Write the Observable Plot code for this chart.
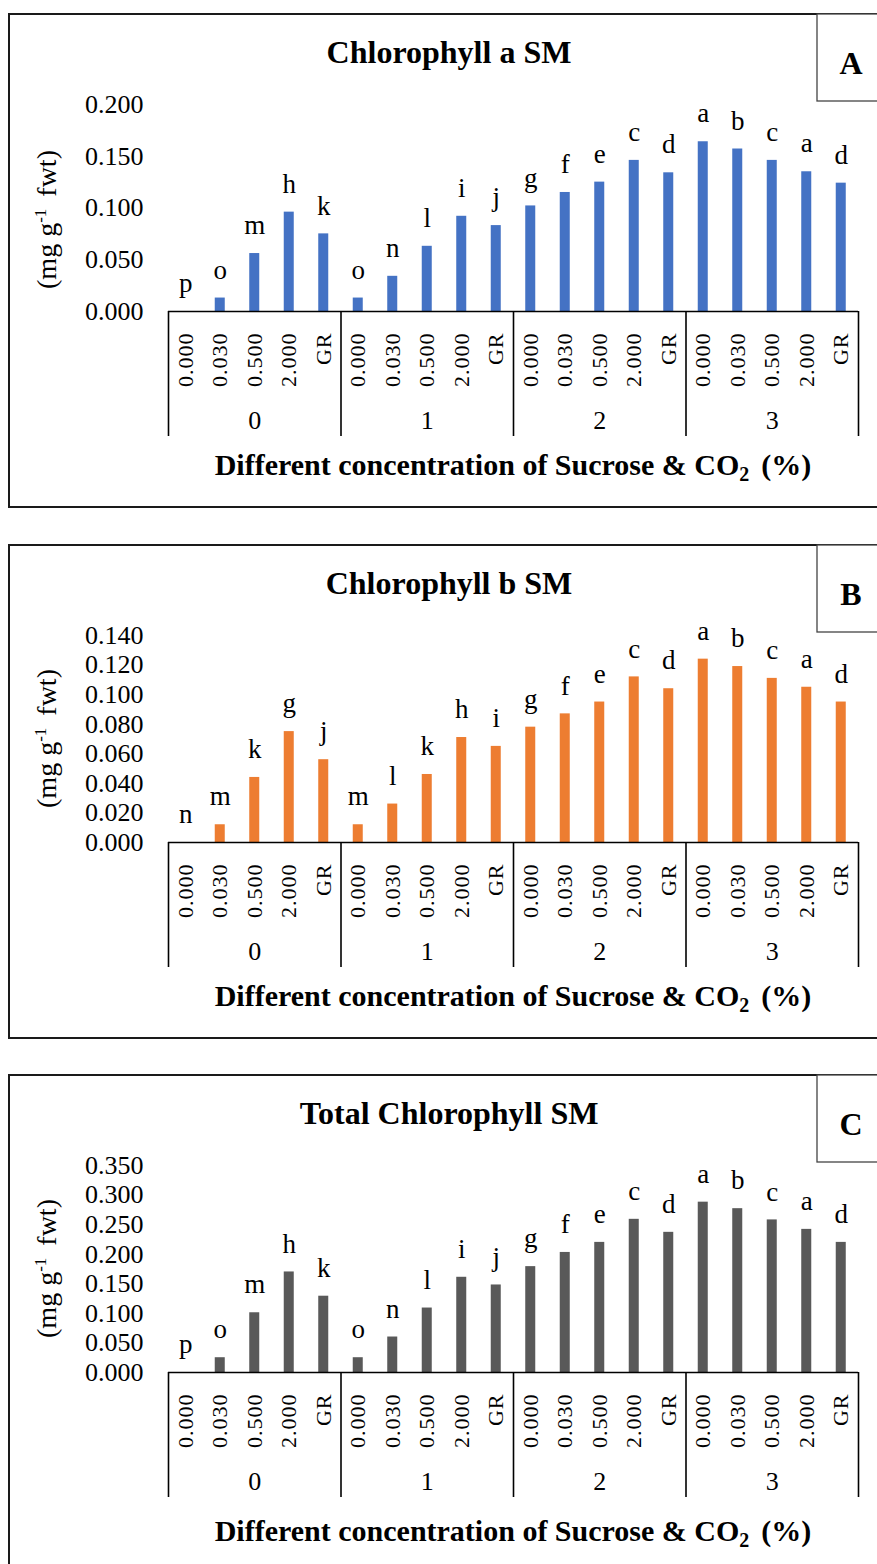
<!DOCTYPE html>
<html>
<head>
<meta charset="utf-8">
<script src="https://cdn.jsdelivr.net/npm/d3@7"></script>
<script src="https://cdn.jsdelivr.net/npm/@observablehq/plot@0.6"></script>
<style>
  html, body { margin: 0; padding: 0; background: #fff; }
  body { width: 877px; height: 1564px; overflow: hidden; position: relative; }
  .panel { position: absolute; left: 0; width: 877px; height: 495px; }
  .panel svg { display: block; overflow: hidden; }
</style>
</head>
<body>
<div id="pA" class="panel" style="top:13px"></div>
<div id="pB" class="panel" style="top:544px"></div>
<div id="pC" class="panel" style="top:1074px"></div>
<script>
// ---- data ----
const groups = ["0", "1", "2", "3"];
const treatments = ["0.000", "0.030", "0.500", "2.000", "GR"];

const chlA = [0.000, 0.013, 0.056, 0.096, 0.075, 0.013, 0.034, 0.063, 0.092, 0.083,
              0.102, 0.115, 0.125, 0.146, 0.134, 0.164, 0.157, 0.146, 0.135, 0.124];
const chlALetters = ["p","o","m","h","k","o","n","l","i","j","g","f","e","c","d","a","b","c","a","d"];

const chlB = [0.000, 0.012, 0.044, 0.075, 0.056, 0.012, 0.026, 0.046, 0.071, 0.065,
              0.078, 0.087, 0.095, 0.112, 0.104, 0.124, 0.119, 0.111, 0.105, 0.095];
const chlBLetters = ["n","m","k","g","j","m","l","k","h","i","g","f","e","c","d","a","b","c","a","d"];

const chlTotal = [0.000, 0.025, 0.101, 0.170, 0.129, 0.025, 0.060, 0.109, 0.161, 0.148,
                  0.179, 0.203, 0.220, 0.259, 0.237, 0.288, 0.277, 0.258, 0.242, 0.220];
const chlTotalLetters = ["p","o","m","h","k","o","n","l","i","j","g","f","e","c","d","a","b","c","a","d"];

const ticksA = [0, 0.05, 0.10, 0.15, 0.20];
const ticksB = [0, 0.02, 0.04, 0.06, 0.08, 0.10, 0.12, 0.14];
const ticksC = [0, 0.05, 0.10, 0.15, 0.20, 0.25, 0.30, 0.35];

const titles = ["Chlorophyll a SM", "Chlorophyll b SM", "Total Chlorophyll SM"];
const panelLetters = ["A", "B", "C"];
const colors = ["#4472C4", "#ED7D31", "#595959"];

// ---- layout constants ----
const W = 877, H = 495;
const mL = 168, mR = 19, mT = 91, mB = 197;
const step = (W - mL - mR) / (groups.length * treatments.length);
const serif = '"Liberation Serif","Times New Roman",serif';

const keys = [];
groups.forEach(g => treatments.forEach(t => keys.push(g + "|" + t)));

function makePanel(el, values, letters, ticks, color, title, letter, yTitleShift, xTitleY) {
  const data = keys.map((k, i) => ({key: k, value: values[i], letter: letters[i]}));
  const firstKeys = groups.map(g => g + "|" + treatments[0]);
  const lastKey = keys[keys.length - 1];
  const midKeys = groups.map(g => ({key: g + "|" + treatments[2], label: g}));

  const plot = Plot.plot({
    width: W, height: H,
    marginLeft: mL, marginRight: mR, marginTop: mT, marginBottom: mB,
    style: {fontFamily: serif, background: "transparent", color: "#000", overflow: "hidden"},
    x: {domain: keys, paddingInner: 0.71, paddingOuter: 0.355, round: false, axis: null},
    y: {domain: [ticks[0], ticks[ticks.length - 1]], axis: null},
    marks: [
      Plot.barY(data, {x: "key", y: "value", fill: color}),
      Plot.text(data, {x: "key", y: "value", text: "letter", dy: -28, fontSize: 27, fill: "#000"}),
      Plot.ruleY([0], {stroke: "#000", strokeWidth: 1.6}),
      Plot.axisY({ticks: ticks, tickFormat: d3.format(".3f"), tickSize: 0, tickPadding: 25,
                  fontSize: 26, label: null}),
      Plot.axisX({ticks: keys, tickRotate: -90, tickSize: 0, tickPadding: 21,
                  tickFormat: k => k.split("|")[1], fontSize: 22, label: null}),
      Plot.ruleX(firstKeys, {x: d => d, dx: -step / 2, y1: 0, y2: 0, insetBottom: -125,
                             stroke: "#000", strokeWidth: 1.6}),
      Plot.ruleX([lastKey], {x: d => d, dx: step / 2, y1: 0, y2: 0, insetBottom: -125,
                             stroke: "#000", strokeWidth: 1.6}),
      Plot.text(midKeys, {x: "key", text: "label", frameAnchor: "bottom", dy: 117,
                          fontSize: 26, fill: "#000"})
    ]
  });

  const svg = d3.select(plot);
  svg.selectAll('g[aria-label="x-axis tick label"] text').style("letter-spacing", "1px");

  // panel frame and letter box
  svg.insert("rect", ":first-child")
    .attr("x", 9).attr("y", 1).attr("width", 900).attr("height", 493)
    .attr("fill", "none").attr("stroke", "#1a1a1a").attr("stroke-width", 2);
  svg.append("rect")
    .attr("x", 817).attr("y", 1).attr("width", 80).attr("height", 87)
    .attr("fill", "#fff").attr("stroke", "#444").attr("stroke-width", 1.3);
  svg.append("text").attr("x", 851).attr("y", 61).attr("text-anchor", "middle")
    .attr("font-family", serif).attr("font-weight", "bold").attr("font-size", 32).text(letter);

  // chart title
  svg.append("text").attr("x", 449).attr("y", 50).attr("text-anchor", "middle")
    .attr("font-family", serif).attr("font-weight", "bold").attr("font-size", 32).text(title);

  // x axis title
  const xt = svg.append("text").attr("x", 513).attr("y", xTitleY).attr("text-anchor", "middle")
    .attr("font-family", serif).attr("font-weight", "bold").attr("font-size", 30);
  xt.append("tspan").text("Different concentration of Sucrose & CO");
  xt.append("tspan").attr("font-size", 20).attr("dy", 6).text("2");
  xt.append("tspan").attr("dy", -6).attr("dx", 12).text("(%)");

  // y axis title
  const yt = svg.append("text")
    .attr("transform", `translate(56,${(mT + (H - mB)) / 2 + yTitleShift}) rotate(-90)`)
    .attr("text-anchor", "middle").attr("font-family", serif).attr("font-size", 28);
  yt.append("tspan").text("(mg g");
  yt.append("tspan").attr("font-size", 17).attr("dy", -10).text("-1");
  yt.append("tspan").attr("dy", 10).attr("dx", 12).text("fwt)");

  document.getElementById(el).appendChild(plot);
}

makePanel("pA", chlA, chlALetters, ticksA, colors[0], titles[0], panelLetters[0], 12, 462);
makePanel("pB", chlB, chlBLetters, ticksB, colors[1], titles[1], panelLetters[1], 0, 462);
makePanel("pC", chlTotal, chlTotalLetters, ticksC, colors[2], titles[2], panelLetters[2], 0, 467);
</script>
</body>
</html>
